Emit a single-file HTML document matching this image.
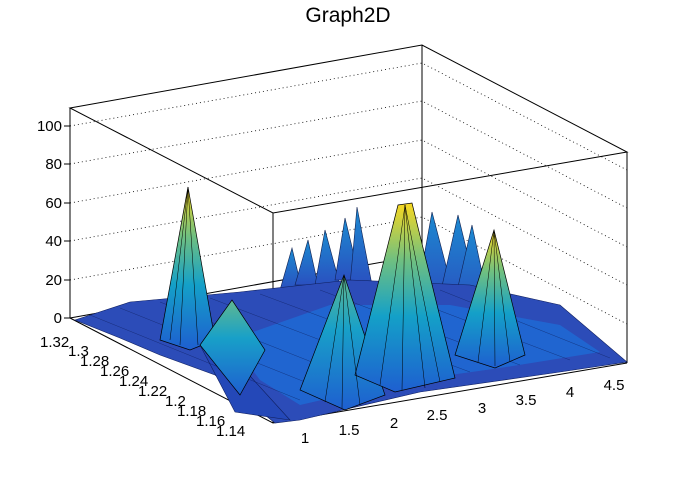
<!DOCTYPE html>
<html><head><meta charset="utf-8"><style>
body{margin:0;background:#fff}
svg text{font-family:"Liberation Sans",sans-serif;fill:#000}
</style></head><body>
<svg width="696" height="472" viewBox="0 0 696 472" xmlns="http://www.w3.org/2000/svg">
<defs>
<linearGradient id="pk" x1="0" y1="1" x2="0" y2="0">
<stop offset="0" stop-color="#1e5fd0"/><stop offset="0.4" stop-color="#14a0c8"/><stop offset="0.7" stop-color="#70c080"/><stop offset="1" stop-color="#f8d820"/></linearGradient>
<linearGradient id="pk2" x1="0" y1="1" x2="0" y2="0">
<stop offset="0" stop-color="#1e5fd0"/><stop offset="0.6" stop-color="#18a0c8"/><stop offset="1" stop-color="#60b890"/></linearGradient>
<linearGradient id="sp" x1="0" y1="1" x2="0" y2="0">
<stop offset="0" stop-color="#2a50c0"/><stop offset="1" stop-color="#1c8ad0"/></linearGradient>
</defs>
<text x="348" y="22" font-size="21" text-anchor="middle">Graph2D</text>
<g stroke="#000" stroke-width="0.8" stroke-dasharray="1,3" fill="none">
<path d="M70 126 L422 63 L627 170 M70 164 L422 101 L627 208 M70 203 L422 140 L627 247 M70 241 L422 178 L627 285 M70 280 L422 217 L627 324"/>
</g>
<g stroke="#000" stroke-width="1" fill="none">
<path d="M70 108 L422 45 L627 152 L273 213 Z M70 108 L70 318 M422 45 L422 255 M627 152 L627 363 M273 213 L273 423 M70 318 L422 255 L627 363 M70 318 L273 423 L627 363"/>
</g>
<!-- spikes (back) -->
<g fill="url(#sp)" stroke="#102050" stroke-width="0.6">
<polygon points="280,290 292,248 302,290"/>
<polygon points="295,285 308,240 318,285"/>
<polygon points="315,285 325,230 340,285"/>
<polygon points="335,280 345,218 360,280"/>
<polygon points="350,285 357,207 372,285"/>
<polygon points="418,290 432,212 455,300"/>
<polygon points="440,295 458,215 480,305"/>
<polygon points="455,300 472,225 490,310"/>
</g>
<!-- surface floor -->
<polygon points="75,320 130,302 240,292 350,280 470,285 560,305 627,362 560,372 420,392 300,420 275,423 215,375 160,355 120,338" fill="#2c4cb8" stroke="#102060" stroke-width="0.6"/>
<polygon points="230,340 330,305 450,305 560,325 600,352 500,368 400,382 300,405 260,380" fill="#1e6ad4" opacity="0.85"/>
<polygon points="200,345 240,365 290,420 235,412" fill="#2448b8" stroke="#102060" stroke-width="0.6"/>
<g stroke="#0a1850" stroke-width="0.5" fill="none" opacity="0.6">
<path d="M90 315 L300 400 M120 308 L330 392 M160 302 L370 385 M210 298 L420 378 M260 294 L470 372 M320 290 L520 365 M380 288 L570 360 M440 290 L610 358"/>
</g>
<!-- peaks -->
<g stroke="#000" stroke-width="0.7">
<polygon points="160,340 188,187 215,340 190,350" fill="url(#pk)"/>
<polygon points="200,345 232,300 265,350 240,395" fill="url(#pk2)"/>
<polygon points="300,390 344,275 385,395 345,410" fill="url(#pk2)"/>
<polygon points="355,375 398,205 412,203 455,378 395,392" fill="url(#pk)"/>
<polygon points="455,355 494,230 525,355 495,368" fill="url(#pk)"/>
</g>
<g stroke="#000" stroke-width="0.5" fill="none">
<path d="M188 187 L180 345 M188 187 L198 345 M188 187 L170 340 M344 275 L325 402 M344 275 L360 405 M344 275 L342 408 M405 205 L380 385 M405 205 L425 388 M405 205 L402 390 M405 205 L440 382 M494 230 L478 362 M494 230 L510 362 M494 230 L495 366"/>
</g>
<!-- axis ticks -->
<g stroke="#000" stroke-width="1">
<path d="M70 126 h-6 M70 164 h-6 M70 203 h-6 M70 241 h-6 M70 280 h-6 M70 318 h-6"/>
</g>
<g font-size="15" text-anchor="end">
<text x="62" y="131">100</text><text x="62" y="169">80</text><text x="62" y="208">60</text>
<text x="62" y="246">40</text><text x="62" y="285">20</text><text x="62" y="323">0</text>
</g>
<g font-size="15">
<text x="40" y="347">1.32</text><text x="68" y="356">1.3</text><text x="80" y="366">1.28</text>
<text x="100" y="376">1.26</text><text x="119" y="386">1.24</text><text x="138" y="396">1.22</text>
<text x="165" y="406">1.2</text><text x="177" y="416">1.18</text><text x="196" y="426">1.16</text>
<text x="216" y="436">1.14</text>
</g>
<g font-size="15" text-anchor="middle">
<text x="305" y="443">1</text><text x="349" y="435">1.5</text><text x="394" y="428">2</text>
<text x="437" y="420">2.5</text><text x="482" y="413">3</text><text x="526" y="405">3.5</text>
<text x="570" y="397">4</text><text x="614" y="390">4.5</text>
</g>
</svg>
</body></html>
